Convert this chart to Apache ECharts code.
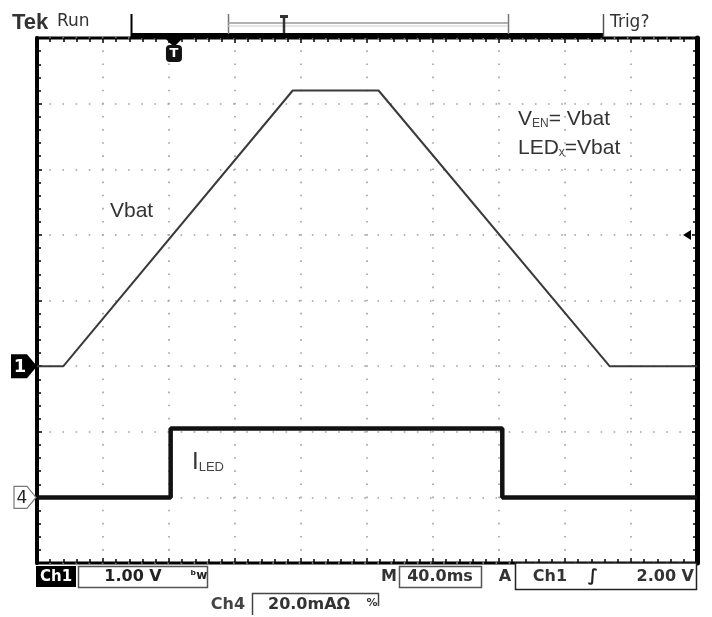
<!DOCTYPE html>
<html>
<head>
<meta charset="utf-8">
<title>Vbat / ILED</title>
<script src="https://cdn.jsdelivr.net/npm/echarts@6/dist/echarts.min.js"></script>
<style>
  html, body { margin: 0; padding: 0; background: #fff; }
  #main { width: 712px; height: 617px; }
</style>
</head>
<body>
<div id="main"></div>
<script>
// scope settings
var timePerDiv = 40;          // ms/div
var ch1VoltsPerDiv = 1.0;     // V/div
var ch4MilliampsPerDiv = 20;  // mA/div
var ch1GroundDiv = -1;        // ground marker "1", divisions from centre
var ch4GroundDiv = -3;        // ground marker "4"
var triggerLevelV = 2.0;
var triggerTimeMs = 83;

// Ch1: Vbat ramp up, hold, ramp down
var vbatTimeMs = [0, 16, 155, 207, 347, 400];
var vbatVolts  = [0, 0, 4.2, 4.2, 0, 0];

// Ch4: LED current
var iledTimeMs     = [0, 81, 81, 282, 282, 400];
var iledMilliamps  = [0, 0, 21, 21, 0, 0];

function toPoints(times, values, ground, perDiv) {
  var pts = [];
  for (var i = 0; i < times.length; i++) {
    pts.push([times[i], ground + values[i] / perDiv]);
  }
  return pts;
}

var chart = echarts.init(document.getElementById('main'));
var gridDots = { color: '#a0a0a0', width: 1.6, type: [1.6, 11.525], dashOffset: 0.8 };
var textFont = '"Liberation Sans", Arial, sans-serif';
var panelFont = '"DejaVu Sans", sans-serif';
var tickStyle = { color: '#000', width: 1.5 };

function frameAxis(pos, isX, withGrid, lineWidth) {
  var ax = {
    type: 'value', position: pos,
    axisLine: { show: lineWidth > 0, onZero: false, lineStyle: { color: '#000', width: lineWidth } },
    axisLabel: { show: false },
    axisTick: { show: true, inside: true, length: 5, lineStyle: tickStyle },
    minorTick: { show: true, splitNumber: 5, length: 4, lineStyle: tickStyle },
    splitLine: { show: withGrid, lineStyle: gridDots }
  };
  if (isX) {
    ax.min = 0; ax.max = timePerDiv * 10; ax.interval = timePerDiv;
  } else {
    ax.min = -4; ax.max = 4; ax.interval = 1;
  }
  return ax;
}

var option = {
  animation: false,
  backgroundColor: '#fff',
  grid: {
    left: 37, top: 38, right: 15, bottom: 54,
    show: true, borderColor: '#000', borderWidth: 3, backgroundColor: '#fff'
  },
  xAxis: [frameAxis('bottom', true, true, 0), frameAxis('top', true, false, 0)],
  yAxis: [frameAxis('left', false, true, 4), frameAxis('right', false, false, 5)],
  series: [
    {
      name: 'Vbat', type: 'line', showSymbol: false,
      lineStyle: { color: '#3a3a3a', width: 2 },
      data: toPoints(vbatTimeMs, vbatVolts, ch1GroundDiv, ch1VoltsPerDiv),
      z: 3
    },
    {
      name: 'ILED', type: 'line', showSymbol: false,
      lineStyle: { color: '#111', width: 4.5 },
      data: toPoints(iledTimeMs, iledMilliamps, ch4GroundDiv, ch4MilliampsPerDiv),
      z: 4
    }
  ]
};
chart.setOption(option);

// markers that follow the scales
var g1 = chart.convertToPixel({ yAxisIndex: 0 }, ch1GroundDiv);
var g4 = chart.convertToPixel({ yAxisIndex: 0 }, ch4GroundDiv);
var trigY = chart.convertToPixel({ yAxisIndex: 0 }, ch1GroundDiv + triggerLevelV / ch1VoltsPerDiv);
var trigX = chart.convertToPixel({ xAxisIndex: 0 }, triggerTimeMs);

function txt(x, y, text, size, opts) {
  opts = opts || {};
  return {
    type: 'text', x: x, y: y, z: 20,
    style: {
      text: text, fill: opts.fill || '#222',
      font: (opts.weight || 'normal') + ' ' + size + 'px ' + (opts.family || panelFont),
      textAlign: opts.align || 'left', textVerticalAlign: 'middle',
      rich: opts.rich
    }
  };
}
function rect(x, y, w, h, fill, stroke, lw) {
  return {
    type: 'rect', z: 15, shape: { x: x, y: y, width: w, height: h },
    style: { fill: fill || 'none', stroke: stroke || null, lineWidth: lw || 0 }
  };
}
function line(x1, y1, x2, y2, color, w) {
  return {
    type: 'line', z: 16, shape: { x1: x1, y1: y1, x2: x2, y2: y2 },
    style: { stroke: color || '#000', lineWidth: w || 1 }
  };
}
var subRich = function (big, small, pad) {
  return {
    a: { font: big + 'px ' + textFont, fill: '#333' },
    b: { font: small + 'px ' + textFont, fill: '#444', verticalAlign: 'bottom', padding: [pad, 0, 0, 0] }
  };
};

var graphics = [
  // header
  txt(12, 23, 'Tek', 22, { weight: 'bold', family: textFont, fill: '#333' }),
  txt(57, 22, 'Run', 17, { fill: '#333' }),
  line(131.5, 14, 131.5, 37, '#000', 2),
  rect(131, 33, 472, 5, '#000'),
  line(228.5, 14, 228.5, 34, '#777', 1.5),
  line(508.5, 14, 508.5, 34, '#777', 1.5),
  line(228, 23, 508, 23, '#999', 1.5),
  line(228, 26, 508, 26, '#ccc', 1),
  line(284, 17, 284, 33, '#333', 2.5),
  rect(280, 15, 8, 3, '#333'),
  line(603.5, 14, 603.5, 37, '#555', 1.5),
  txt(610, 23, 'Trig?', 17, { fill: '#333' }),

  // trigger position marker
  { type: 'polygon', z: 20, shape: { points: [[trigX - 9, 38], [trigX + 9, 38], [trigX, 47]] }, style: { fill: '#000' } },
  { type: 'rect', z: 20, shape: { x: trigX - 8, y: 45, width: 16, height: 17, r: 4 }, style: { fill: '#111' } },
  txt(trigX, 54, 'T', 13, { weight: 'bold', fill: '#fff', align: 'center' }),

  // trigger level arrow on right
  { type: 'polygon', z: 20, shape: { points: [[683, trigY], [691, trigY - 5], [691, trigY + 5]] }, style: { fill: '#000' } },

  // ground markers
  { type: 'polygon', z: 20, shape: { points: [[11, g1 - 12], [27, g1 - 12], [37, g1], [27, g1 + 12], [11, g1 + 12]] }, style: { fill: '#000' } },
  txt(20, g1 + 1, '1', 18, { weight: 'bold', fill: '#fff', align: 'center' }),
  { type: 'polygon', z: 20, shape: { points: [[14, g4 - 11], [27, g4 - 11], [36, g4], [27, g4 + 11], [14, g4 + 11]] }, style: { fill: '#fff', stroke: '#777', lineWidth: 1.2 } },
  txt(22, g4 + 1, '4', 17, { fill: '#222', align: 'center' }),

  // trace labels
  txt(110, 211, 'Vbat', 21, { family: textFont, fill: '#333' }),
  txt(518, 119, '{a|V}{b|EN}{a|= Vbat}', 21, { family: textFont, rich: subRich(21, 12, 8) }),
  txt(518, 148, '{a|LED}{b|x}{a|=Vbat}', 21, { family: textFont, rich: subRich(21, 12, 8) }),
  txt(192, 462, '{a|I}{b|LED}', 22, { family: textFont, rich: subRich(24, 13, 9) }),

  // bottom status bar
  rect(36, 566, 40, 21, '#000'),
  txt(56, 577, 'Ch1', 15, { weight: 'bold', fill: '#fff', align: 'center' }),
  rect(78.5, 566.5, 129, 21, '#fff', '#555', 1.5),
  txt(133, 577, '1.00 V', 16, { weight: 'bold', fill: '#222', align: 'center' }),
  txt(199, 576, 'ᵇw', 12, { weight: 'bold', fill: '#222', align: 'center' }),
  txt(389, 577, 'M', 16, { weight: 'bold', fill: '#333', align: 'center' }),
  rect(399.5, 566.5, 82, 21, '#fff', '#555', 1.5),
  txt(440, 577, '40.0ms', 16, { weight: 'bold', fill: '#333', align: 'center' }),
  txt(505, 577, 'A', 16, { weight: 'bold', fill: '#333', align: 'center' }),
  rect(515.5, 563, 181, 26.5, '#fff', '#222', 1.5),
  txt(550, 577, 'Ch1', 16, { weight: 'bold', fill: '#333', align: 'center' }),
  txt(593, 577, '∫', 17, { weight: 'bold', fill: '#222', align: 'center' }),
  txt(694, 577, '2.00 V', 16, { weight: 'bold', fill: '#333', align: 'right' }),
  txt(228, 605, 'Ch4', 16, { weight: 'bold', fill: '#444', align: 'center' }),
  line(252.5, 593, 252.5, 615, '#444', 1.5),
  line(252, 593.5, 379, 593.5, '#444', 1.5),
  line(378.5, 593, 378.5, 606, '#444', 1.5),
  txt(268, 605, '20.0mAΩ', 16, { weight: 'bold', fill: '#333' }),
  txt(372, 603, '%', 11, { weight: 'bold', fill: '#333', align: 'center' })
];

chart.setOption({ graphic: graphics });
</script>
</body>
</html>
